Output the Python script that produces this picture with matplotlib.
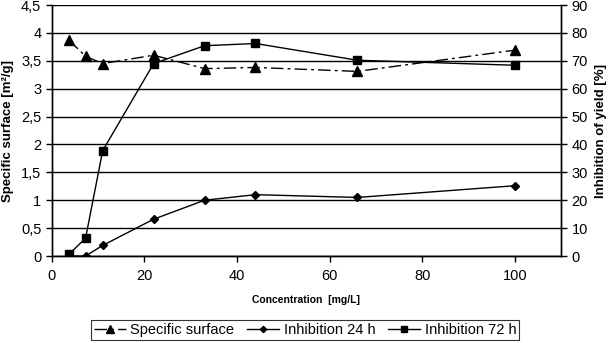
import matplotlib
matplotlib.use("Agg")
import matplotlib.pyplot as plt
import numpy as np

plt.rcParams['font.family'] = ['Liberation Sans', 'DejaVu Sans']

conc = [3.7, 7.3, 11, 22, 33, 44, 66, 100]
surface = [3.87, 3.58, 3.45, 3.60, 3.36, 3.38, 3.31, 3.69]
inhib_24 = [0, 0, 3.8, 13.2, 20, 22, 21, 25.2]
inhib_72 = [0.6, 6.4, 37.8, 69, 75.4, 76.2, 70.2, 68.4]

left_ticks = [0, 0.5, 1, 1.5, 2, 2.5, 3, 3.5, 4, 4.5]
left_labels = ['0', '0,5', '1', '1,5', '2', '2,5', '3', '3,5', '4', '4,5']
right_ticks = [0, 10, 20, 30, 40, 50, 60, 70, 80, 90]
x_ticks = [0, 20, 40, 60, 80, 100]

fig = plt.figure(figsize=(6.1, 3.43), dpi=100)
ax = fig.add_axes([0.0849, 0.2536, 0.8348, 0.7318])
ax2 = ax.twinx()

ax.set_xlim(0, 110)
ax.set_ylim(0, 4.5)
ax2.set_ylim(0, 90)

for t in left_ticks:
	ax.axhline(t, color='black', lw=1.0, zorder=0)

l1, = ax.plot(conc, surface, color='black', lw=1.0, ls=(0, (9, 3, 2, 3)),
	marker='^', ms=6.5, label='Specific surface')
l2, = ax2.plot(conc, inhib_24, color='black', lw=1.0, marker='D', ms=4,
	label='Inhibition 24 h')
l3, = ax2.plot(conc, inhib_72, color='black', lw=1.0, marker='s', ms=5.5,
	label='Inhibition 72 h')

ax.set_yticks(left_ticks)
ax.set_yticklabels(left_labels)
ax.set_xticks(x_ticks)
ax2.set_yticks(right_ticks)

for a in (ax, ax2):
	a.spines['top'].set_visible(False)
	a.tick_params(direction='out', length=4, width=1, colors='black', labelsize=10.5)
	for s in a.spines.values():
		s.set_linewidth(1.0)
ax.tick_params(axis='x', pad=5)

ax.set_ylabel('Specific surface [m²/g]', fontsize=9.5, fontweight='bold', labelpad=5)
ax2.set_ylabel('Inhibition of yield [%]', fontsize=9.5, fontweight='bold', labelpad=5)
ax.set_xlabel('Concentration  [mg/L]', fontsize=7.5, fontweight='bold', labelpad=9)

leg = fig.legend(handles=[l1, l2, l3], loc='center', bbox_to_anchor=(0.5, 0.037),
	ncol=3, fontsize=10.5, frameon=True, fancybox=False, edgecolor='black',
	handlelength=2.2, handletextpad=0.3, columnspacing=0.9, borderpad=0.2,
	borderaxespad=0, markerscale=0.8)
leg.get_frame().set_linewidth(0.8)

fig.savefig('out.png', dpi=100)
